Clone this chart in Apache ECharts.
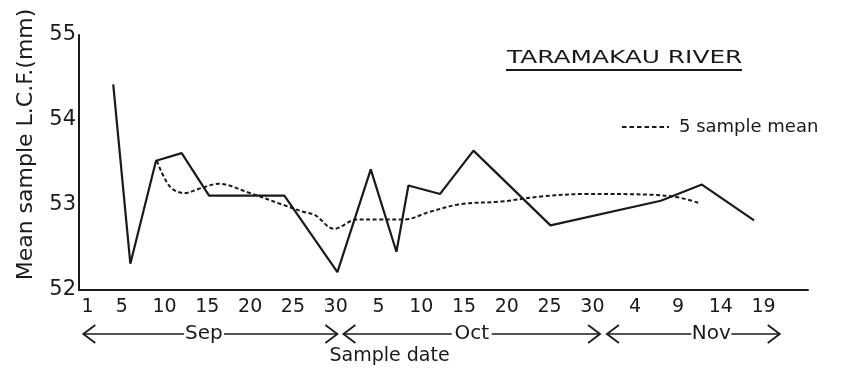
<!DOCTYPE html>
<html>
<head>
<meta charset="utf-8">
<script src="https://cdn.jsdelivr.net/npm/echarts@6/dist/echarts.min.js"></script>
<style>
  html, body { margin: 0; padding: 0; background: #ffffff; }
  #chart { width: 842px; height: 369px; }
</style>
</head>
<body>
<div id="chart"></div>
<script>
// Days are counted from 1 September (Sep 1 = 1, Oct 1 = 31, Nov 1 = 62).
const sampleDays = [4, 6, 9, 12, 15.2, 24, 30.2, 34.1, 37.1, 38.5, 42.2, 46.1, 55.1, 68, 72.8, 78.9];
const sampleLcf  = [54.42, 52.31, 53.52, 53.61, 53.11, 53.11, 52.21, 53.42, 52.45, 53.23, 53.13, 53.64, 52.76, 53.05, 53.24, 52.82];

// Running mean of five samples, as drawn
const meanDays = [9.1, 10.6, 12.3, 14.3, 16.3, 19.7, 23.9, 26.2, 27.6, 29.8, 32.5, 35, 38, 41, 44.6, 49.3, 54, 59.4, 67, 70, 72.6];
const meanLcf  = [53.52, 53.22, 53.14, 53.20, 53.25, 53.15, 53.00, 52.92, 52.88, 52.72, 52.83, 52.83, 52.83, 52.92, 53.01, 53.04, 53.10, 53.13, 53.12, 53.09, 53.02];

// Axis ticks
const tickDays   = [1, 5, 10, 15, 20, 25, 30, 35, 40, 45, 50, 55, 60, 65, 70, 75, 80];
const tickLabels = ['1', '5', '10', '15', '20', '25', '30', '5', '10', '15', '20', '25', '30', '4', '9', '14', '19'];
const yTicks     = [52, 53, 54, 55];

// Month spans under the date labels
const months     = ['Sep', 'Oct', 'Nov'];
const monthStart = [0.5, 30.9, 61.7];
const monthEnd   = [30.2, 60.9, 81.9];
const monthText  = [14.6, 45.9, 73.9];

const FONT = '"DejaVu Sans", "Liberation Sans", sans-serif';
const INK = '#1a1a1a';

const chart = echarts.init(document.getElementById('chart'));

chart.setOption({
  animation: false,
  backgroundColor: '#ffffff',
  textStyle: { fontFamily: FONT, color: INK },
  grid: { left: 79, right: 34, top: 35, bottom: 79, containLabel: false },
  xAxis: {
    type: 'value',
    min: 0, max: 85.2,
    axisLine: { show: true, lineStyle: { color: INK, width: 2 } },
    axisTick: { show: false },
    splitLine: { show: false },
    axisLabel: {
      customValues: tickDays,
      formatter: function (v) {
        const i = tickDays.indexOf(v);
        return i >= 0 ? tickLabels[i] : '';
      },
      margin: 8, fontSize: 19, color: INK, fontFamily: FONT
    }
  },
  yAxis: {
    type: 'value',
    min: 52, max: 55, interval: 1,
    name: 'Mean sample L.C.F.(mm)',
    nameLocation: 'middle', nameRotate: 90, nameGap: 42,
    nameTextStyle: { fontSize: 22, color: INK, fontFamily: FONT, padding: [0, 0, 0, 36] },
    axisLine: { show: true, lineStyle: { color: INK, width: 2 } },
    axisTick: { show: false },
    splitLine: { show: false },
    axisLabel: {
      customValues: yTicks,
      margin: 3, fontSize: 21, color: INK, fontFamily: FONT
    }
  },
  series: [
    {
      name: 'LCF',
      type: 'line',
      data: sampleDays.map((d, i) => [d, sampleLcf[i]]),
      symbol: 'none',
      lineStyle: { color: INK, width: 2.2 },
      z: 3
    },
    {
      name: '5 sample mean',
      type: 'line',
      data: meanDays.map((d, i) => [d, meanLcf[i]]),
      symbol: 'none',
      smooth: 0.35,
      lineStyle: { color: INK, width: 2, type: [4, 2.5] },
      z: 2
    }
  ]
});

// Title with underline, key for the dashed line, and the month arrows
function buildAnnotations() {
  const els = [];
  els.push({ type: 'text', x: 507, y: 58, scaleX: 1.38,
    style: { text: 'TARAMAKAU RIVER', fontSize: 18, fontFamily: FONT, fill: INK, align: 'left', verticalAlign: 'middle' } });
  els.push({ type: 'line', shape: { x1: 506, y1: 70, x2: 742, y2: 70 }, style: { stroke: INK, lineWidth: 2 } });

  els.push({ type: 'line', shape: { x1: 622, y1: 127, x2: 669, y2: 127 }, style: { stroke: INK, lineWidth: 2, lineDash: [4.5, 3] } });
  els.push({ type: 'text', x: 679, y: 127,
    style: { text: '5 sample mean', fontSize: 18, fontFamily: FONT, fill: INK, align: 'left', verticalAlign: 'middle' } });

  const yRow = 334;
  months.forEach(function (m, i) {
    const xs = chart.convertToPixel({ xAxisIndex: 0 }, monthStart[i]);
    const xe = chart.convertToPixel({ xAxisIndex: 0 }, monthEnd[i]);
    const xt = chart.convertToPixel({ xAxisIndex: 0 }, monthText[i]);
    const half = 20;
    els.push({ type: 'line', shape: { x1: xs, y1: yRow, x2: xt - half, y2: yRow }, style: { stroke: INK, lineWidth: 1.6 } });
    els.push({ type: 'line', shape: { x1: xt + half, y1: yRow, x2: xe, y2: yRow }, style: { stroke: INK, lineWidth: 1.6 } });
    els.push({ type: 'polyline', shape: { points: [[xs + 12, yRow - 9], [xs, yRow], [xs + 12, yRow + 9]] }, style: { stroke: INK, lineWidth: 1.8, fill: null } });
    els.push({ type: 'polyline', shape: { points: [[xe - 12, yRow - 9], [xe, yRow], [xe - 12, yRow + 9]] }, style: { stroke: INK, lineWidth: 1.8, fill: null } });
    els.push({ type: 'text', x: xt, y: yRow, style: { text: m, fontSize: 20, fontFamily: FONT, fill: INK, align: 'center', verticalAlign: 'middle' } });
  });

  const xc = chart.convertToPixel({ xAxisIndex: 0 }, 36.3);
  els.push({ type: 'text', x: xc, y: 356, style: { text: 'Sample date', fontSize: 19, fontFamily: FONT, fill: INK, align: 'center', verticalAlign: 'middle' } });

  chart.setOption({ graphic: { elements: els } });
}
buildAnnotations();
</script>
</body>
</html>
